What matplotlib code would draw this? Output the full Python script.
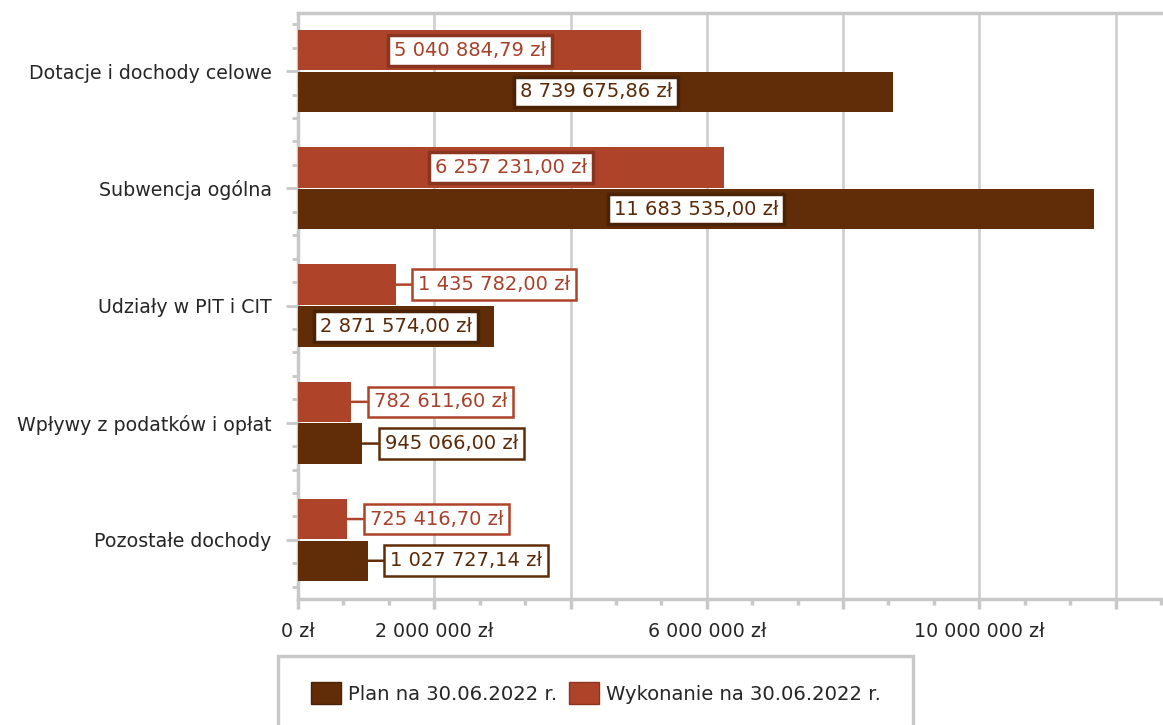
import matplotlib.pyplot as plt
import numpy as np
from matplotlib.patches import Patch, Rectangle
from matplotlib.ticker import MultipleLocator

kategorie = ["Dotacje i dochody celowe", "Subwencja ogólna", "Udziały w PIT i CIT",
             "Wpływy z podatków i opłat", "Pozostałe dochody"]
plan = [8739675.86, 11683535.00, 2871574.00, 945066.00, 1027727.14]
wykonanie = [5040884.79, 6257231.00, 1435782.00, 782611.60, 725416.70]
seria_nazwy = ["Plan na 30.06.2022 r.", "Wykonanie na 30.06.2022 r."]
x_etykiety = ["0 zł", "2 000 000 zł", "", "6 000 000 zł", "", "10 000 000 zł", ""]

BRAZ = "#602D08"
POMAR = "#AD4329"
SZARY = "#C8C8C8"
FS = 13.7


def zl(v):
    return f"{v:,.2f}".replace(",", " ").replace(".", ",") + " zł"


def Rysuj():
    fig = plt.figure(figsize=(11.63, 7.25), dpi=100)
    ax = fig.add_axes([298 / 1163, 1 - 598.5 / 725, 863 / 1163, 586 / 725])

    y = np.arange(len(kategorie))
    h = 0.345
    ax.barh(y - 0.178, wykonanie, height=h, color=POMAR, zorder=3)
    ax.barh(y + 0.178, plan, height=h, color=BRAZ, zorder=3)

    # etykiety danych
    for vals, off, kol, ram, txt in [(wykonanie, -0.178, POMAR, "#8A3520", "#A8412A"),
                                     (plan, 0.178, BRAZ, "#4A2206", "#5A2A08")]:
        for yi, v in zip(y, vals):
            if v > 2.5e6:
                ax.text(v / 2, yi + off, zl(v), ha="center", va="center", fontsize=14,
                        color=txt, zorder=5,
                        bbox=dict(boxstyle="square,pad=0.3", fc="white", ec=ram, lw=2.5))
            else:
                ax.annotate(zl(v), xy=(v, yi + off), xytext=(16, 0), textcoords="offset points",
                            ha="left", va="center", fontsize=14, color=txt, zorder=5,
                            bbox=dict(boxstyle="square,pad=0.3", fc="white", ec=kol, lw=1.8),
                            arrowprops=dict(arrowstyle="-", color=kol, lw=1.8,
                                            shrinkA=0, shrinkB=0))

    ax.set_ylim(len(kategorie) - 0.5, -0.5)
    ax.set_xlim(0, 12.6667e6)
    ax.set_yticks(y)
    ax.set_yticklabels(kategorie, fontsize=FS, color="#262626")
    ax.yaxis.set_minor_locator(MultipleLocator(0.2))
    ax.set_xticks(np.arange(0, 12.1e6, 2e6))
    ax.set_xticklabels(x_etykiety, fontsize=FS, color="#262626")
    ax.xaxis.set_minor_locator(MultipleLocator(2e6 / 3))

    ax.tick_params(axis="x", which="major", length=7, width=2.5, color=SZARY, pad=10)
    ax.tick_params(axis="x", which="minor", length=4, width=2.5, color=SZARY)
    ax.tick_params(axis="y", which="major", length=9, width=2, color=SZARY, pad=10)
    ax.tick_params(axis="y", which="minor", length=4.5, width=2, color=SZARY)

    ax.grid(axis="x", which="major", color="#D0D0D0", lw=2, zorder=0)
    for s in ["left", "bottom", "top"]:
        ax.spines[s].set_color(SZARY)
        ax.spines[s].set_linewidth(2.5)
    ax.spines["right"].set_visible(False)

    # ramka legendy
    fig.patches.append(Rectangle((278 / 1163, -0.1), 635 / 1163, 1 - 656 / 725 + 0.1,
                                 transform=fig.transFigure, fill=False, ec=SZARY, lw=2.5))
    uchwyty = [Patch(fc=BRAZ, ec="#4A2206", lw=1), Patch(fc=POMAR, ec="#8A3520", lw=1)]
    fig.legend(uchwyty, seria_nazwy, loc="center left", ncol=2,
               bbox_to_anchor=(301 / 1163, 1 - 693 / 725), frameon=False, fontsize=14.1,
               handlelength=1.55, handleheight=1.4, handletextpad=0.35,
               columnspacing=0.6, borderpad=0, labelcolor="#262626")

    fig.savefig("out.png", dpi=100)


if __name__ == '__main__':
    Rysuj()
